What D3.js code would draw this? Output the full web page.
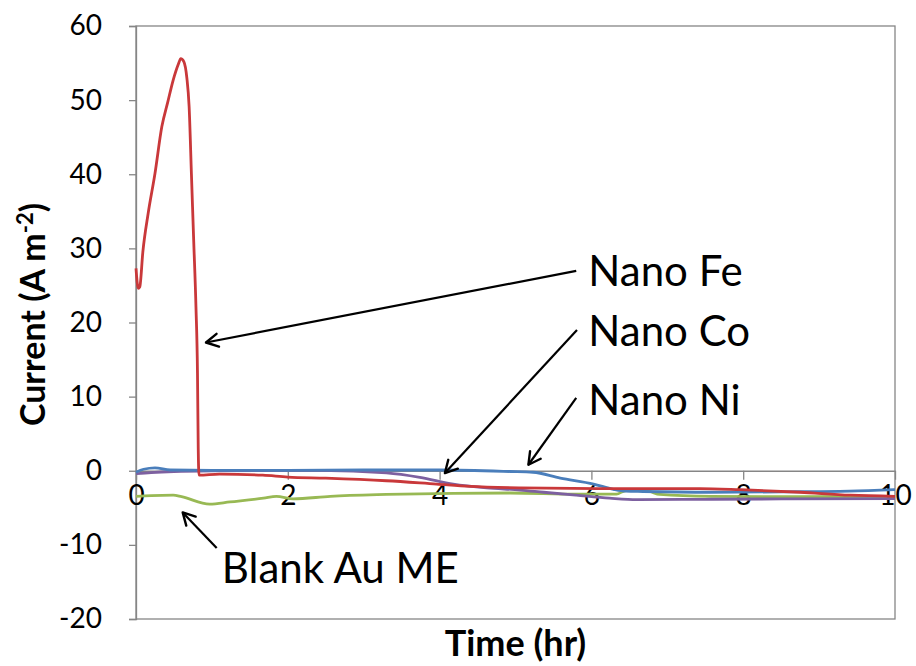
<!DOCTYPE html>
<html>
<head>
<meta charset="utf-8">
<script src="https://cdn.jsdelivr.net/npm/d3@7"></script>
<style>
  html, body { margin: 0; padding: 0; background: #ffffff; }
  svg { display: block; }
  text { font-family: Lato, "Open Sans", sans-serif; fill: #000; }
</style>
</head>
<body>
<div id="chart"></div>
<script>
// ---------- DATA ----------
const xTicks = [0, 2, 4, 6, 8, 10];
const yTicks = [-20, -10, 0, 10, 20, 30, 40, 50, 60];

const nanoFe = [[0, 27.3], [0.03, 24.6], [0.05, 24.8], [0.09, 29.5], [0.16, 34.7], [0.25, 40.1], [0.34, 46.4], [0.42, 49.8], [0.49, 52.7], [0.56, 54.9], [0.59, 55.6], [0.63, 55.2], [0.67, 53.0], [0.70, 49.1], [0.73, 40.1], [0.76, 31.1], [0.79, 22.1], [0.81, 13.2], [0.82, 3.0], [0.83, -0.6], [1.1, -0.45], [1.67, -0.6], [2.0, -0.85], [2.5, -1.0], [3.3, -1.35], [3.96, -1.8], [4.4, -2.1], [5.06, -2.3], [6.1, -2.4], [7.43, -2.4], [7.96, -2.55], [8.75, -2.9], [9.41, -3.3], [10, -3.45]];

const nanoNi = [[0, -0.2], [0.1, 0.2], [0.25, 0.4], [0.45, 0.1], [1, 0.05], [2, 0.05], [3, 0.1], [4, 0.1], [4.93, -0.1], [5.23, -0.2], [5.59, -1.0], [6.03, -1.8], [6.29, -2.5], [6.45, -2.75], [6.68, -2.8], [7.56, -2.9], [8.5, -2.85], [9.4, -2.75], [10, -2.55]];

const nanoCo = [[0, -0.4], [0.2, -0.25], [0.5, -0.1], [1, 0], [2, 0.05], [2.42, 0.05], [3.3, -0.3], [3.74, -0.9], [4.18, -1.8], [4.62, -2.3], [5.06, -2.6], [5.37, -2.9], [5.8, -3.3], [6.24, -3.7], [6.6, -3.9], [7.5, -3.85], [8.5, -3.8], [10, -3.75]];

const blankAu = [[0, -3.45], [0.2, -3.35], [0.49, -3.3], [0.6, -3.5], [0.97, -4.5], [1.24, -4.2], [1.68, -3.7], [1.85, -3.45], [2.07, -3.8], [2.56, -3.45], [3.3, -3.2], [4.18, -3.05], [4.93, -3.0], [5.8, -3.15], [6.33, -3.15], [6.44, -2.7], [6.6, -2.55], [6.77, -2.8], [6.9, -3.2], [7.56, -3.45], [8.75, -3.5], [10, -3.45]];

const seriesNames = ["Blank Au ME", "Nano Co", "Nano Ni", "Nano Fe"];
const seriesColors = ["#98B954", "#7D60A0", "#4A7EBB", "#C9383A"];

// annotation labels (data coords, left/baseline)
const labelTexts = ["Nano Fe", "Nano Co", "Nano Ni", "Blank Au ME"];
const labelX = [5.96, 5.96, 5.96, 1.13];
const labelY = [24.9, 16.8, 7.55, -15.2];
// arrows: tail -> tip (data coords)
const arrowTail = [[5.80, 26.97], [5.81, 19.0], [5.80, 9.84], [1.063, -10.42]];
const arrowTip = [[0.922, 17.3], [4.07, -0.31], [5.17, 0.81], [0.615, -5.62]];

// ---------- LAYOUT ----------
const W = 916, H = 666;
const m = { left: 136, right: 21, top: 26, bottom: 47 };

const svg = d3.select("#chart").append("svg").attr("width", W).attr("height", H);

const x = d3.scaleLinear().domain([0, 10]).range([m.left, W - m.right]);
const y = d3.scaleLinear().domain([-20, 60]).range([H - m.bottom, m.top]);

const axisColor = "#868686";
const fmt = d => String(d);

// plot frame
svg.append("rect")
  .attr("x", x(0)).attr("y", y(60))
  .attr("width", x(10) - x(0)).attr("height", y(-20) - y(60))
  .attr("fill", "none").attr("stroke", axisColor).attr("stroke-width", 1.3);

// y axis
const yAxis = svg.append("g").attr("transform", `translate(${x(0)},0)`)
  .call(d3.axisLeft(y).tickValues(yTicks).tickSize(7).tickPadding(27).tickFormat(fmt));
yAxis.select(".domain").attr("stroke", axisColor).attr("stroke-width", 1.3);
yAxis.selectAll(".tick line").attr("stroke", axisColor).attr("stroke-width", 1.3);
yAxis.selectAll(".tick text").attr("font-size", 28).attr("font-family", "Lato, sans-serif").attr("fill", "#000");

// x axis at y = 0
const xAxis = svg.append("g").attr("transform", `translate(0,${y(0)})`)
  .call(d3.axisBottom(x).tickValues(xTicks).tickSize(9).tickSizeOuter(0).tickPadding(20).tickFormat(fmt));
xAxis.select(".domain").attr("stroke", axisColor).attr("stroke-width", 1.3);
xAxis.selectAll(".tick line").attr("stroke", axisColor).attr("stroke-width", 1.3);
xAxis.selectAll(".tick text").attr("font-size", 28).attr("font-family", "Lato, sans-serif").attr("fill", "#000")
  .attr("dy", "0.2em");

// lines
const line = d3.line().x(d => x(d[0])).y(d => y(d[1])).curve(d3.curveMonotoneX);
const allSeries = [blankAu, nanoCo, nanoNi, nanoFe];
svg.append("g").selectAll("path")
  .data(allSeries)
  .join("path")
  .attr("d", line)
  .attr("fill", "none")
  .attr("stroke", (d, i) => seriesColors[i])
  .attr("stroke-width", 2.8)
  .attr("stroke-linejoin", "round");

// axis titles
svg.append("text")
  .attr("transform", `translate(45,${(y(60) + y(-20)) / 2 - 8}) rotate(-90)`)
  .attr("text-anchor", "middle")
  .attr("font-weight", "bold").attr("font-size", 34)
  .call(t => {
    t.append("tspan").text("Current (A m");
    t.append("tspan").attr("font-size", 22).attr("dy", "-12").text("-2");
    t.append("tspan").attr("dy", "12").text(")");
  });

svg.append("text")
  .attr("x", (x(0) + x(10)) / 2).attr("y", 656)
  .attr("text-anchor", "middle")
  .attr("font-weight", "bold").attr("font-size", 36)
  .text("Time (hr)");

// arrows
const defs = svg.append("defs");
defs.append("marker")
  .attr("id", "arrow").attr("markerUnits", "userSpaceOnUse")
  .attr("markerWidth", 20).attr("markerHeight", 20)
  .attr("refX", 15).attr("refY", 8).attr("orient", "auto")
  .append("path").attr("d", "M3,1.5 L15,8 L3,14.5")
  .attr("fill", "none").attr("stroke", "#000").attr("stroke-width", 2.4)
  .attr("stroke-linecap", "round").attr("stroke-linejoin", "round");

svg.append("g").selectAll("line")
  .data(arrowTail.map((t, i) => [t, arrowTip[i]]))
  .join("line")
  .attr("x1", d => x(d[0][0])).attr("y1", d => y(d[0][1]))
  .attr("x2", d => x(d[1][0])).attr("y2", d => y(d[1][1]))
  .attr("stroke", "#000").attr("stroke-width", 2.2)
  .attr("marker-end", "url(#arrow)");

svg.append("g").selectAll("text")
  .data(labelTexts)
  .join("text")
  .attr("x", (d, i) => x(labelX[i])).attr("y", (d, i) => y(labelY[i]))
  .attr("font-size", 42)
  .text(d => d);
</script>
</body>
</html>
